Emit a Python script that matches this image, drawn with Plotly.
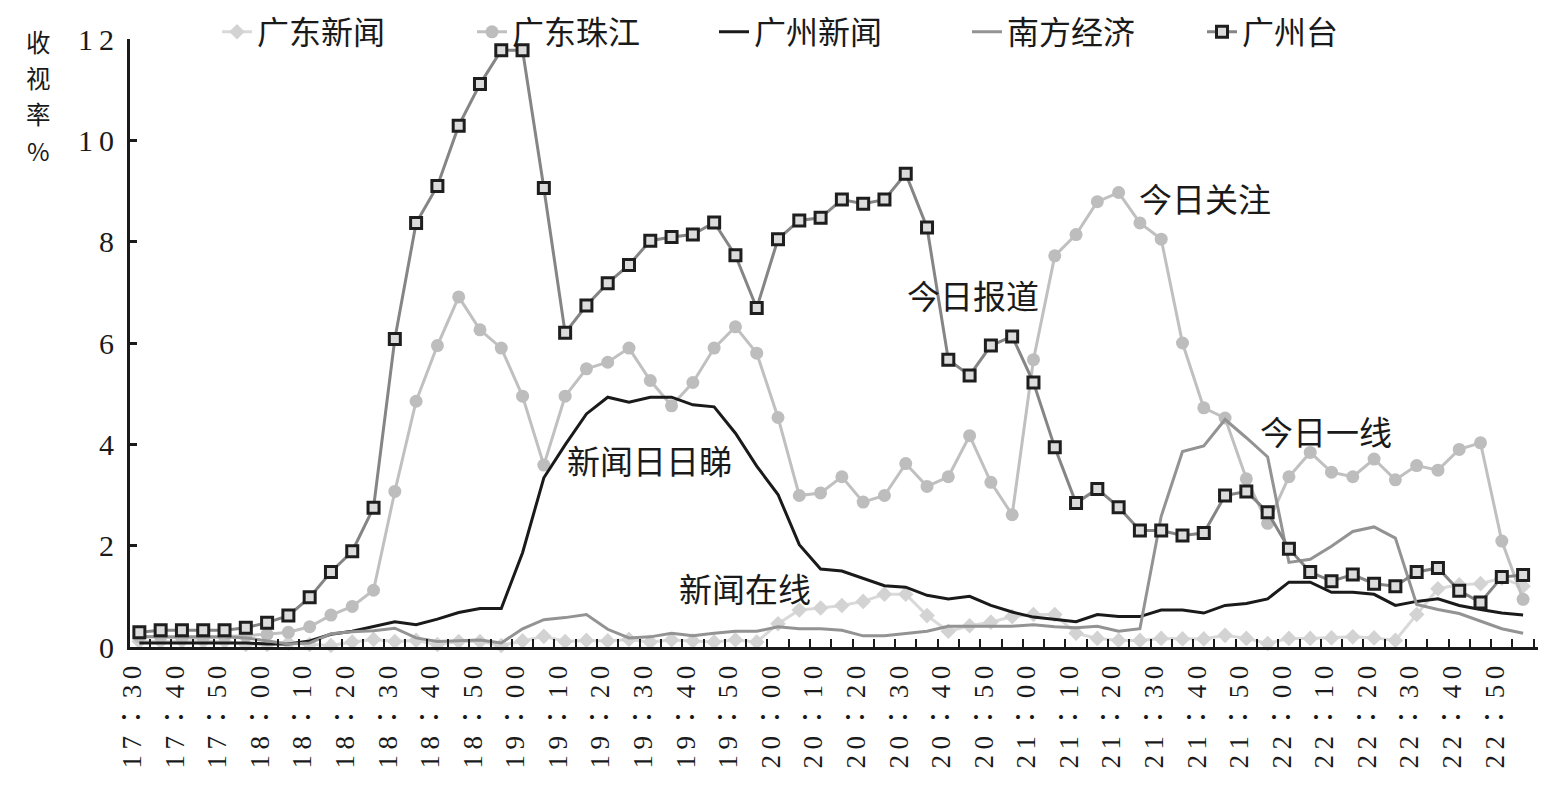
import plotly.graph_objects as go

# ---------------- data ----------------
TIMES = ["17:30", "17:35", "17:40", "17:45", "17:50", "17:55",
         "18:00", "18:05", "18:10", "18:15", "18:20", "18:25",
         "18:30", "18:35", "18:40", "18:45", "18:50", "18:55",
         "19:00", "19:05", "19:10", "19:15", "19:20", "19:25",
         "19:30", "19:35", "19:40", "19:45", "19:50", "19:55",
         "20:00", "20:05", "20:10", "20:15", "20:20", "20:25",
         "20:30", "20:35", "20:40", "20:45", "20:50", "20:55",
         "21:00", "21:05", "21:10", "21:15", "21:20", "21:25",
         "21:30", "21:35", "21:40", "21:45", "21:50", "21:55",
         "22:00", "22:05", "22:10", "22:15", "22:20", "22:25",
         "22:30", "22:35", "22:40", "22:45", "22:50", "22:55"]

TICK_TIMES = TIMES[::2]

SERIES_NAMES = ["广东新闻", "广东珠江", "广州新闻", "南方经济", "广州台"]

GD_XINWEN = [0.11, 0.11, 0.12, 0.11, 0.11, 0.05, 0.05, 0.08, 0.05, 0.03,
             0.10, 0.15, 0.11, 0.13, 0.05, 0.11, 0.11, 0.03, 0.12, 0.21,
             0.11, 0.13, 0.12, 0.15, 0.10, 0.14, 0.12, 0.10, 0.14, 0.10,
             0.46, 0.73, 0.77, 0.82, 0.90, 1.04, 1.04, 0.62, 0.31, 0.42,
             0.49, 0.60, 0.64, 0.64, 0.27, 0.17, 0.13, 0.13, 0.17, 0.16,
             0.16, 0.23, 0.17, 0.07, 0.17, 0.17, 0.18, 0.20, 0.18, 0.13,
             0.64, 1.15, 1.23, 1.25, 1.36, 1.20]

GD_ZHUJIANG = [0.20, 0.20, 0.18, 0.18, 0.20, 0.22, 0.25, 0.29, 0.40, 0.63,
               0.80, 1.12, 3.07, 4.85, 5.95, 6.91, 6.26, 5.90, 4.95, 3.59,
               4.95, 5.49, 5.62, 5.90, 5.26, 4.76, 5.22, 5.90, 6.32, 5.80,
               4.53, 2.99, 3.04, 3.36, 2.86, 2.99, 3.62, 3.17, 3.36, 4.17,
               3.25, 2.61, 5.67, 7.72, 8.14, 8.79, 8.97, 8.37, 8.05, 6.00,
               4.72, 4.52, 3.32, 2.44, 3.36, 3.84, 3.45, 3.36, 3.71, 3.30,
               3.58, 3.49, 3.90, 4.03, 2.09, 0.94]

GZ_XINWEN = [0.08, 0.08, 0.08, 0.08, 0.08, 0.08, 0.06, 0.06, 0.12, 0.25,
             0.31, 0.40, 0.50, 0.44, 0.55, 0.68, 0.76, 0.76, 1.86, 3.34,
             3.99, 4.60, 4.93, 4.83, 4.93, 4.93, 4.78, 4.74, 4.22, 3.57,
             3.01, 2.02, 1.54, 1.50, 1.35, 1.21, 1.18, 1.02, 0.95, 1.00,
             0.82, 0.69, 0.59, 0.54, 0.50, 0.64, 0.60, 0.60, 0.73, 0.73,
             0.67, 0.82, 0.86, 0.95, 1.28, 1.28, 1.08, 1.08, 1.04, 0.82,
             0.90, 0.95, 0.82, 0.74, 0.67, 0.63]

NF_JINGJI = [0.20, 0.20, 0.20, 0.20, 0.20, 0.18, 0.12, 0.06, 0.08, 0.26,
             0.30, 0.32, 0.37, 0.18, 0.11, 0.13, 0.14, 0.08, 0.36, 0.54,
             0.58, 0.64, 0.35, 0.18, 0.20, 0.27, 0.22, 0.27, 0.31, 0.31,
             0.40, 0.36, 0.36, 0.33, 0.22, 0.22, 0.27, 0.31, 0.41, 0.41,
             0.40, 0.41, 0.44, 0.40, 0.38, 0.41, 0.31, 0.36, 2.58, 3.86,
             3.97, 4.49, 4.13, 3.75, 1.67, 1.73, 1.99, 2.28, 2.37, 2.15,
             0.84, 0.74, 0.66, 0.51, 0.36, 0.27]

GZ_TAI = [0.29, 0.33, 0.33, 0.33, 0.33, 0.38, 0.48, 0.62, 0.98, 1.48,
          1.89, 2.75, 6.08, 8.37, 9.10, 10.29, 11.11, 11.78, 11.78, 9.06,
          6.20, 6.74, 7.18, 7.54, 8.02, 8.09, 8.14, 8.38, 7.73, 6.69,
          8.05, 8.42, 8.47, 8.83, 8.75, 8.83, 9.34, 8.28, 5.67, 5.36,
          5.95, 6.13, 5.22, 3.94, 2.84, 3.12, 2.76, 2.30, 2.30, 2.20,
          2.25, 2.99, 3.07, 2.66, 1.94, 1.48, 1.30, 1.43, 1.25, 1.20,
          1.48, 1.56, 1.11, 0.88, 1.38, 1.42]

Y_TICKS = [0, 2, 4, 6, 8, 10, 12]

# programme labels: (text, category position, value)
PROGRAMS = [("今日关注", 46.86, 8.87),
            ("今日报道", 35.96, 6.95),
            ("新闻日日睇", 20.0, 3.70),
            ("新闻在线", 25.26, 1.17),
            ("今日一线", 52.55, 4.27)]

Y_TITLE_CHARS = ["收", "视", "率", "%"]

# ---------------- styling / layout ----------------
OFF = 8                      # default page body margin of the html page
W, H = 1546 - OFF, 791 - OFF
ML = 130 - OFF
MT = 39 - OFF
MR = W - (1538 - OFF)
MB = H - (647.5 - OFF)
PLOT_W = W - ML - MR
PLOT_H = H - MT - MB

CJK = "Noto Sans CJK SC"
TXT = "#1a1a1a"


def px_x(p):
    """screen pixel (x) -> paper coordinate"""
    return (p - OFF - ML) / PLOT_W


def px_y(p):
    """screen pixel (y) -> paper coordinate"""
    return (H - MB - (p - OFF)) / PLOT_H


def spaced(s):
    return "\u2009".join(list(s))


def time_label(t):
    h, m = t.split(":")
    return spaced(h) + "\u2009：\u2009" + spaced(m)


fig = go.Figure()

fig.add_trace(go.Scatter(
    x=TIMES, y=GD_XINWEN, name=SERIES_NAMES[0], mode="lines+markers",
    line=dict(color="#d9d9d9", width=3),
    marker=dict(symbol="diamond", size=12, color="#d3d3d3"),
    cliponaxis=False, legend="legend"))
fig.add_trace(go.Scatter(
    x=TIMES, y=GD_ZHUJIANG, name=SERIES_NAMES[1], mode="lines+markers",
    line=dict(color="#c0c0c0", width=3),
    marker=dict(symbol="circle", size=13, color="#bdbdbd"),
    cliponaxis=False, legend="legend2"))
fig.add_trace(go.Scatter(
    x=TIMES, y=GZ_XINWEN, name=SERIES_NAMES[2], mode="lines",
    line=dict(color="#1a1a1a", width=3),
    cliponaxis=False, legend="legend3"))
fig.add_trace(go.Scatter(
    x=TIMES, y=NF_JINGJI, name=SERIES_NAMES[3], mode="lines",
    line=dict(color="#939393", width=3),
    cliponaxis=False, legend="legend4"))
fig.add_trace(go.Scatter(
    x=TIMES, y=GZ_TAI, name=SERIES_NAMES[4], mode="lines+markers",
    line=dict(color="#858585", width=3),
    marker=dict(symbol="square", size=11, color="#dcdcdc",
                line=dict(color="#1e1e1e", width=3)),
    cliponaxis=False, legend="legend5"))

# invisible helper trace on the overlay axis for category-boundary ticks
fig.add_trace(go.Scatter(x=[0], y=[0], xaxis="x2", mode="markers",
                         marker=dict(opacity=0), showlegend=False,
                         hoverinfo="skip"))

XR = [-0.44, 65.7]

legend_text_px = [258, 513, 755, 1008, 1243]
legend_names = ["legend", "legend2", "legend3", "legend4", "legend5"]
legend_layout = {}
for nm, p in zip(legend_names, legend_text_px):
    legend_layout[nm] = dict(
        orientation="h", x=px_x(p - 41), xanchor="left",
        y=px_y(32), yanchor="middle",
        font=dict(family=CJK, size=32, color=TXT),
        bgcolor="rgba(0,0,0,0)", borderwidth=0, itemwidth=30)

annotations = [dict(text=t, x=xv, y=yv, xref="x", yref="y",
                    xanchor="left", yanchor="middle", showarrow=False,
                    font=dict(family=CJK, size=33, color=TXT))
               for t, xv, yv in PROGRAMS]
for ch, py in zip(Y_TITLE_CHARS, [42, 78, 114, 151]):
    annotations.append(dict(text=ch, x=px_x(38), y=px_y(py),
                            xref="paper", yref="paper", xanchor="center",
                            yanchor="middle", showarrow=False,
                            font=dict(family=CJK + ", Liberation Serif",
                                      size=24.5, color=TXT)))

fig.update_layout(
    width=W, height=H,
    margin=dict(l=ML, r=MR, t=MT, b=MB, autoexpand=False),
    paper_bgcolor="white", plot_bgcolor="white",
    showlegend=True,
    annotations=annotations,
    xaxis=dict(
        type="category", range=XR, showgrid=False, zeroline=False,
        showline=True, linecolor=TXT, linewidth=3,
        tickmode="array", tickvals=TICK_TIMES,
        ticktext=[time_label(t) for t in TICK_TIMES],
        ticks="", tickangle=-90, ticklabelstandoff=5, ticklabelshift=-7,
        tickfont=dict(family="Liberation Serif, Noto Sans CJK TC",
                      size=27, color=TXT)),
    xaxis2=dict(
        type="linear", range=XR, overlaying="x", anchor="y", side="bottom",
        showgrid=False, zeroline=False, showline=False,
        tickmode="array", tickvals=[i + 0.5 for i in range(len(TIMES))],
        ticks="inside", ticklen=8, tickwidth=2, tickcolor=TXT,
        showticklabels=False),
    yaxis=dict(
        range=[0, 12], showgrid=False, zeroline=False,
        showline=True, linecolor=TXT, linewidth=3,
        tickmode="array", tickvals=Y_TICKS,
        ticktext=[spaced(str(v)) for v in Y_TICKS],
        ticks="inside", ticklen=7, tickwidth=3, tickcolor=TXT,
        ticklabelstandoff=7,
        tickfont=dict(family="Liberation Serif", size=30, color=TXT)),
    **legend_layout,
)

fig.write_html("out.html")
